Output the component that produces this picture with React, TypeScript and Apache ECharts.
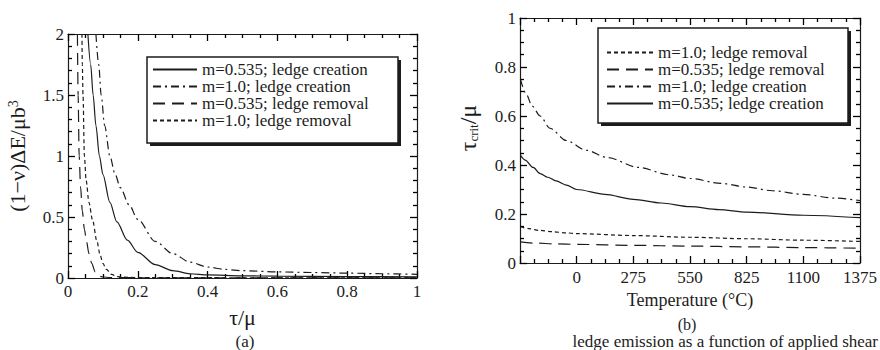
import React, { useEffect, useRef } from "react";
import * as echarts from "echarts";

const FONT = '"Liberation Serif", "Times New Roman", serif';
const INK = "#1c1c1c";

// ---------- legend / series names ----------
const NAME_SOLID = "m=0.535; ledge creation";
const NAME_DASHDOT = "m=1.0; ledge creation";
const NAME_LONG = "m=0.535; ledge removal";
const NAME_SHORT = "m=1.0; ledge removal";

const legendA = [NAME_SOLID, NAME_DASHDOT, NAME_LONG, NAME_SHORT];
const legendB = [NAME_SHORT, NAME_LONG, NAME_DASHDOT, NAME_SOLID];

// ---------- panel (a): energy vs tau/mu ----------
const solidA_x = [0.057, 0.065, 0.072, 0.08, 0.09, 0.1, 0.12, 0.14, 0.17, 0.2, 0.25, 0.3, 0.35, 0.4, 0.5, 0.6, 0.8, 1.0];
const solidA_y = [2.0, 1.75, 1.5, 1.25, 1.0, 0.85, 0.62, 0.46, 0.31, 0.21, 0.11, 0.06, 0.035, 0.025, 0.018, 0.015, 0.012, 0.01];

const dashdotA_x = [0.08, 0.088, 0.095, 0.105, 0.12, 0.135, 0.15, 0.175, 0.2, 0.25, 0.3, 0.35, 0.4, 0.45, 0.5, 0.6, 0.7, 0.8, 0.9, 1.0];
const dashdotA_y = [2.0, 1.75, 1.5, 1.25, 1.0, 0.85, 0.74, 0.6, 0.48, 0.3, 0.2, 0.13, 0.09, 0.07, 0.06, 0.05, 0.045, 0.04, 0.035, 0.03];

const longA_x = [0.027, 0.029, 0.032, 0.036, 0.041, 0.047, 0.053, 0.06, 0.068, 0.078, 0.09, 0.1, 0.12, 0.2, 0.4, 0.6, 0.8, 1.0];
const longA_y = [2.0, 1.5, 1.0, 0.75, 0.55, 0.4, 0.3, 0.2, 0.12, 0.05, 0.015, 0.008, 0.004, 0.002, 0.001, 0.001, 0.001, 0.001];

const shortA_x = [0.04, 0.041, 0.043, 0.047, 0.052, 0.06, 0.07, 0.083, 0.092, 0.1, 0.11, 0.125, 0.14, 0.16, 0.2, 0.3, 0.5, 0.7, 1.0];
const shortA_y = [2.0, 1.75, 1.5, 1.0, 0.8, 0.62, 0.48, 0.3, 0.19, 0.12, 0.07, 0.03, 0.012, 0.007, 0.004, 0.003, 0.002, 0.002, 0.002];

// ---------- panel (b): tau_crit/mu vs temperature (°C) ----------
const dashdotB_T = [-273, -245, -216, -177, -130, -50, 47, 150, 300, 450, 550, 700, 825, 950, 1100, 1250, 1375];
const dashdotB_y = [0.75, 0.69, 0.64, 0.6, 0.55, 0.5, 0.46, 0.43, 0.39, 0.36, 0.345, 0.325, 0.31, 0.295, 0.28, 0.265, 0.255];

const solidB_T = [-273, -250, -211, -177, -140, -100, -50, 0, 137, 275, 410, 550, 690, 825, 1100, 1375];
const solidB_y = [0.44, 0.42, 0.39, 0.365, 0.35, 0.335, 0.318, 0.3, 0.28, 0.26, 0.245, 0.23, 0.218, 0.208, 0.195, 0.185];

const shortB_T = [-273, -230, -180, -120, -50, 0, 275, 550, 825, 1100, 1375];
const shortB_y = [0.148, 0.14, 0.133, 0.128, 0.123, 0.12, 0.112, 0.105, 0.099, 0.093, 0.088];

const longB_T = [-273, -200, -100, 0, 275, 550, 825, 1100, 1375];
const longB_y = [0.086, 0.081, 0.078, 0.076, 0.072, 0.069, 0.066, 0.063, 0.06];

// ---------- axis ranges / ticks ----------
const xA = { min: 0, max: 1, interval: 0.2, minor: 4 };
const yA = { min: 0, max: 2, interval: 0.5, minor: 5 };
const xB = { min: -275, max: 1375, interval: 275, minor: 4 };
const yB = { min: 0, max: 1, interval: 0.2, minor: 4 };

const DASH: Record<string, any> = {
  [NAME_SOLID]: "solid",
  [NAME_DASHDOT]: [8, 4, 2, 4],
  [NAME_LONG]: [12, 7],
  [NAME_SHORT]: [4, 3],
};

function zip(xs: number[], ys: number[]) {
  return xs.map((x, i) => [x, ys[i]]);
}

function line(name: string, xs: number[], ys: number[], xi: number, yi: number) {
  return {
    type: "line",
    name,
    xAxisIndex: xi,
    yAxisIndex: yi,
    data: zip(xs, ys),
    symbol: "none",
    smooth: 0.3,
    smoothMonotone: "x",
    lineStyle: { color: INK, width: 1.2, type: DASH[name] },
    itemStyle: { color: INK },
  };
}

const lbl = { fontFamily: FONT, fontSize: 17, color: INK };
type R = { min: number; max: number; interval: number; minor: number };

function axis(grid: number, r: R, position: string, labelStyle: any, extra: any = {}) {
  return {
    type: "value",
    gridIndex: grid,
    position,
    min: r.min,
    max: r.max,
    interval: r.interval,
    splitLine: { show: false },
    axisLine: { show: true, onZero: false, lineStyle: { color: INK, width: 1.2 } },
    axisTick: { show: true, inside: true, length: 7, lineStyle: { color: "#000", width: 1.3 } },
    minorTick: { show: true, splitNumber: r.minor, length: 4, lineStyle: { color: "#000", width: 1.3 } },
    axisLabel: labelStyle,
    ...extra,
  };
}

export default function App() {
  const ref = useRef<HTMLDivElement>(null);

  useEffect(() => {
    if (!ref.current) return;
    const chart = echarts.init(ref.current, null, { renderer: "svg" });
    const nameStyle = { fontFamily: FONT, color: INK };

    const option: any = {
      animation: false,
      backgroundColor: "#ffffff",
      grid: [
        { left: 68, right: 463, top: 34, bottom: 72 },
        { left: 520, right: 15, top: 18, bottom: 87 },
      ],
      xAxis: [
        axis(0, xA, "bottom", { ...lbl, margin: 5 }, {
          name: "τ/μ",
          nameLocation: "middle",
          nameGap: 28,
          nameTextStyle: { ...nameStyle, fontSize: 22 },
        }),
        axis(0, xA, "top", { show: false }),
        axis(1, xB, "bottom", { ...lbl, margin: 6, formatter: (v: number) => (v < 0 ? "" : String(v)) }, {
          name: "Temperature (°C)",
          nameLocation: "middle",
          nameGap: 24,
          nameTextStyle: { ...nameStyle, fontSize: 18 },
        }),
        axis(1, xB, "top", { show: false }),
      ],
      yAxis: [
        axis(0, yA, "left", { ...lbl, margin: 4 }, {
          name: "(1−ν)ΔE/μb{s|3}",
          nameLocation: "middle",
          nameGap: 40,
          nameTextStyle: {
            ...nameStyle,
            fontSize: 22,
            rich: { s: { fontFamily: FONT, color: INK, fontSize: 14, verticalAlign: "top", padding: [0, 0, 8, 0] } },
          },
        }),
        axis(0, yA, "right", { show: false }),
        axis(1, yB, "left", { ...lbl, margin: 4 }, {
          name: "τ{s|crit}/μ",
          nameLocation: "middle",
          nameGap: 40,
          nameTextStyle: {
            ...nameStyle,
            fontSize: 24,
            padding: [0, 0, 0, 25],
            rich: { s: { fontFamily: FONT, color: INK, fontSize: 13, padding: [10, 0, 0, 0] } },
          },
        }),
        axis(1, yB, "right", { show: false }),
      ],
      legend: [
        {
          data: legendA, orient: "vertical", left: 152, top: 61, padding: 0,
          itemWidth: 44, itemHeight: 10, itemGap: 0, selectedMode: false, z: 10,
          itemStyle: { opacity: 0 },
          textStyle: { fontFamily: FONT, fontSize: 17, color: INK, lineHeight: 17 },
        },
        {
          data: legendB, orient: "vertical", left: 606, top: 44, padding: 0,
          itemWidth: 46, itemHeight: 10, itemGap: 0, selectedMode: false, z: 10,
          itemStyle: { opacity: 0 },
          textStyle: { fontFamily: FONT, fontSize: 17, color: INK, lineHeight: 16.5 },
        },
      ],
      graphic: [
        { type: "rect", z: 1, shape: { x: 150, y: 60, width: 251, height: 86 }, style: { fill: INK } },
        { type: "rect", z: 2, shape: { x: 147, y: 57, width: 251, height: 86 }, style: { fill: "#fff", stroke: INK, lineWidth: 1.5 } },
        { type: "rect", z: 1, shape: { x: 601, y: 31, width: 250, height: 95 }, style: { fill: INK } },
        { type: "rect", z: 2, shape: { x: 598, y: 28, width: 250, height: 95 }, style: { fill: "#fff", stroke: INK, lineWidth: 1.5 } },
        { type: "text", x: 245, y: 341, style: { text: "(a)", fontFamily: FONT, fontSize: 17, fill: INK, textAlign: "center", textVerticalAlign: "middle" } },
        { type: "text", x: 687, y: 324, style: { text: "(b)", fontFamily: FONT, fontSize: 16, fill: INK, textAlign: "center", textVerticalAlign: "middle" } },
        { type: "text", x: 878, y: 341, style: { text: "ledge emission as a function of applied shear", fontFamily: FONT, fontSize: 17, fill: INK, textAlign: "right", textVerticalAlign: "middle" } },
      ],
      series: [
        line(NAME_SOLID, solidA_x, solidA_y, 0, 0),
        line(NAME_DASHDOT, dashdotA_x, dashdotA_y, 0, 0),
        line(NAME_LONG, longA_x, longA_y, 0, 0),
        line(NAME_SHORT, shortA_x, shortA_y, 0, 0),
        line(NAME_SHORT, shortB_T, shortB_y, 2, 2),
        line(NAME_LONG, longB_T, longB_y, 2, 2),
        line(NAME_DASHDOT, dashdotB_T, dashdotB_y, 2, 2),
        line(NAME_SOLID, solidB_T, solidB_y, 2, 2),
      ],
    };

    chart.setOption(option);
    return () => chart.dispose();
  }, []);

  return <div ref={ref} style={{ position: "fixed", left: 0, top: 0, width: 880, height: 350, background: "#fff" }} />;
}
